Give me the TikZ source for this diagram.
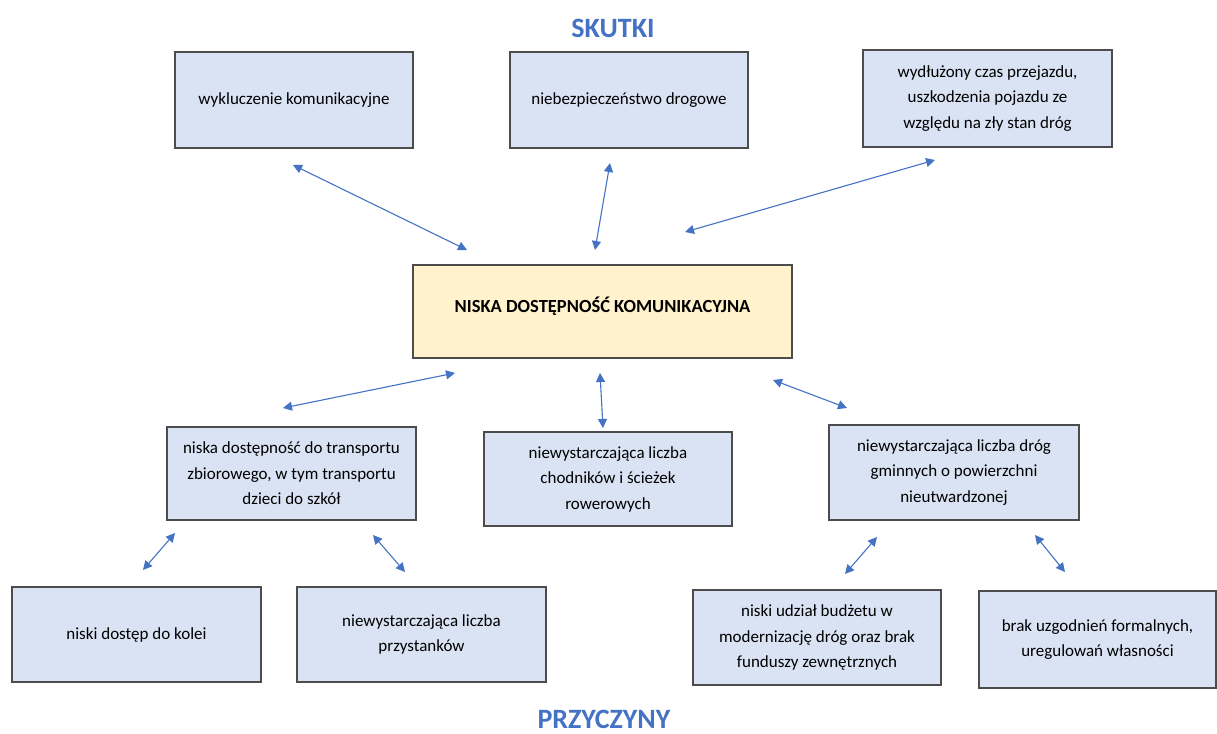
\documentclass[tikz,border=0pt]{standalone}
\usepackage{fontspec}
\setmainfont{Carlito}
\usetikzlibrary{arrows.meta, positioning}

\definecolor{boxblue}{HTML}{DAE3F3}
\definecolor{boxyellow}{HTML}{FFF2CC}
\definecolor{linkblue}{HTML}{4472C4}

\tikzset{
    box/.style={draw=black!70, line width=1.4pt, fill=boxblue, align=center,
        font=\fontsize{17}{25.5}\selectfont, inner sep=0pt},
    link/.style={{Triangle[length=9pt,width=9pt]}-{Triangle[length=9pt,width=9pt]},
        linkblue, line width=1.1pt},
    title/.style={font=\fontsize{28}{30}\selectfont\bfseries, text=linkblue,
        inner sep=0pt, anchor=base}
}

\begin{document}
\begin{tikzpicture}[x=1pt, y=-1pt]
        \useasboundingbox (0,0) rectangle (1217,733);

        % skutki
        \node[title] (T1) at (613,38) {SKUTKI};
        \node[box, minimum width=238pt, minimum height=96pt] (S1) at (294,100) {wykluczenie komunikacyjne};
        \node[box, minimum width=238pt, minimum height=96pt] (S2) at (629,100) {niebezpieczeństwo drogowe};
        \node[box, minimum width=249pt, minimum height=97pt] (S3) at (987.5,98.5) {wydłużony czas przejazdu,\\uszkodzenia pojazdu ze\\względu na zły stan dróg};

        % problem
        \node[box, fill=boxyellow, minimum width=379pt, minimum height=93pt, text depth=14pt,
            font=\fontsize{18.5}{25}\selectfont\bfseries] (N) at (602.5,311.5) {NISKA DOSTĘPNOŚĆ KOMUNIKACYJNA};

        % przyczyny
        \node[box, minimum width=249pt, minimum height=93pt] (P1) at (291.5,473.5) {niska dostępność do transportu\\zbiorowego, w tym transportu\\dzieci do szkół};
        \node[box, minimum width=248pt, minimum height=94pt] (P2) at (608,479) {niewystarczająca liczba\\chodników i ścieżek\\rowerowych};
        \node[box, minimum width=250pt, minimum height=95pt] (P3) at (954,472.5) {niewystarczająca liczba dróg\\gminnych o powierzchni\\nieutwardzonej};
        \node[box, minimum width=249pt, minimum height=95pt] (P4) at (136.5,634.5) {niski dostęp do kolei};
        \node[box, minimum width=249pt, minimum height=95pt] (P5) at (421.5,634.5) {niewystarczająca liczba\\przystanków};
        \node[box, minimum width=248pt, minimum height=95pt] (P6) at (817,637.5) {niski udział budżetu w\\modernizację dróg oraz brak\\funduszy zewnętrznych};
        \node[box, minimum width=237pt, minimum height=97pt] (P7) at (1097.5,639.5) {brak uzgodnień formalnych,\\uregulowań własności};
        \node[title] (T2) at (604,728) {PRZYCZYNY};

        % end points of the links
        \coordinate (a1) at (293,165);  \coordinate (b1) at (467,250);
        \coordinate (a2) at (610,163);  \coordinate (b2) at (595,250);
        \coordinate (a3) at (935,160);  \coordinate (b3) at (685,232);
        \coordinate (a4) at (455,373);  \coordinate (b4) at (283,408);
        \coordinate (a5) at (600,373);  \coordinate (b5) at (603,428);
        \coordinate (a6) at (773,380);  \coordinate (b6) at (847,408);
        \coordinate (a7) at (175,533);  \coordinate (b7) at (143,570);
        \coordinate (a8) at (373,535);  \coordinate (b8) at (405,572);
        \coordinate (a9) at (877,537);  \coordinate (b9) at (845,574);
        \coordinate (a10) at (1035,535); \coordinate (b10) at (1065,572);

        \foreach \i in {1,...,10}
            \draw[link] (a\i) -- (b\i);
    \end{tikzpicture}
\end{document}
